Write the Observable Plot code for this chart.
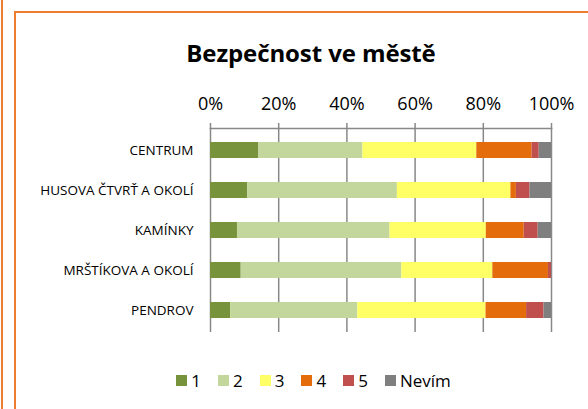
<!DOCTYPE html>
<html>
<head>
<meta charset="utf-8">
<script src="https://cdn.jsdelivr.net/npm/d3@7"></script>
<script src="https://cdn.jsdelivr.net/npm/@observablehq/plot@0.6"></script>
<style>
  html, body { margin: 0; padding: 0; background: #fff; }
  #wrap { position: relative; width: 588px; height: 409px; overflow: hidden; font-family: "Open Sans", sans-serif; }
  #leftline { position: absolute; left: 1px; top: 0; width: 2px; height: 409px; background: #ED7D31; }
  #frame { position: absolute; left: 14px; top: 11px; width: 600px; height: 420px; border-left: 2.5px solid #ED7D31; border-top: 2.5px solid #ED7D31; box-sizing: border-box; }
  #title { position: absolute; left: 0; width: 622px; top: 38px; text-align: center; font-weight: bold; font-size: 24px; color: #000; line-height: 30px; letter-spacing: -0.1px; }
  #chart { position: absolute; left: 0; top: 80px; }
  #legend { position: absolute; left: 0; width: 627px; top: 369px; display: flex; justify-content: center; align-items: center; gap: 17px; font-size: 17px; color: #000; }
  .item { display: flex; align-items: center; gap: 4px; }
  .sw { width: 11px; height: 11px; display: inline-block; }
</style>
</head>
<body>
<div id="wrap">
  <div id="leftline"></div>
  <div id="frame"></div>
  <div id="title">Bezpečnost ve městě</div>
  <div id="chart"></div>
  <div id="legend"></div>
</div>
<script>
const areas = ["CENTRUM", "HUSOVA ČTVRŤ A OKOLÍ", "KAMÍNKY", "MRŠTÍKOVA A OKOLÍ", "PENDROV"];
const keys = ["1", "2", "3", "4", "5", "Nevím"];
const colors = ["#77933C", "#C3D69B", "#FFFF66", "#E46C0A", "#C0504D", "#7F7F7F"];
const s1 = [14.2, 10.9, 7.9, 9.0, 5.9];
const s2 = [30.5, 43.9, 44.7, 47.1, 37.3];
const s3 = [33.4, 33.3, 28.2, 26.7, 37.6];
const s4 = [16.2, 1.6, 11.1, 16.3, 11.9];
const s5 = [2.1, 4.0, 4.1, 0.9, 5.1];
const sN = [3.6, 6.3, 3.9, 0.0, 2.2];
const xTicks = [0, 0.2, 0.4, 0.6, 0.8, 1];

const series = [s1, s2, s3, s4, s5, sN];
const data = [];
areas.forEach((a, i) => {
  keys.forEach((k, j) => data.push({area: a, key: k, value: series[j][i]}));
});

const chart = Plot.plot({
  width: 588,
  height: 260,
  marginLeft: 210,
  marginRight: 37,
  marginTop: 48,
  marginBottom: 8,
  style: {fontFamily: "'Open Sans', sans-serif", background: "transparent"},
  x: {domain: [0, 1], axis: null},
  y: {domain: areas, paddingInner: 0.6, paddingOuter: 0.3, axis: null},
  color: {domain: keys, range: colors},
  marks: [
    Plot.gridX(xTicks, {stroke: "#888", strokeOpacity: 1, strokeWidth: 1.5}),
    Plot.barX(data, Plot.stackX({x: "value", y: "area", fill: "key", order: keys, offset: "normalize"})),
    Plot.frame({anchor: "top", stroke: "#888", strokeWidth: 1.5}),
    Plot.axisX(xTicks, {anchor: "top", label: null, tickSize: 6, tickPadding: 13, stroke: "#888", strokeWidth: 1.5, fill: "#000", fontSize: 18, tickFormat: d => Math.round(d * 100) + "%"}),
    Plot.axisY({label: null, tickSize: 0, tickPadding: 17, fill: "#000", fontSize: 13.5})
  ]
});
document.getElementById("chart").appendChild(chart);

const legend = document.getElementById("legend");
keys.forEach((k, j) => {
  const it = document.createElement("div");
  it.className = "item";
  const sw = document.createElement("span");
  sw.className = "sw";
  sw.style.background = colors[j];
  const t = document.createElement("span");
  t.textContent = k;
  it.appendChild(sw);
  it.appendChild(t);
  legend.appendChild(it);
});
</script>
</body>
</html>
